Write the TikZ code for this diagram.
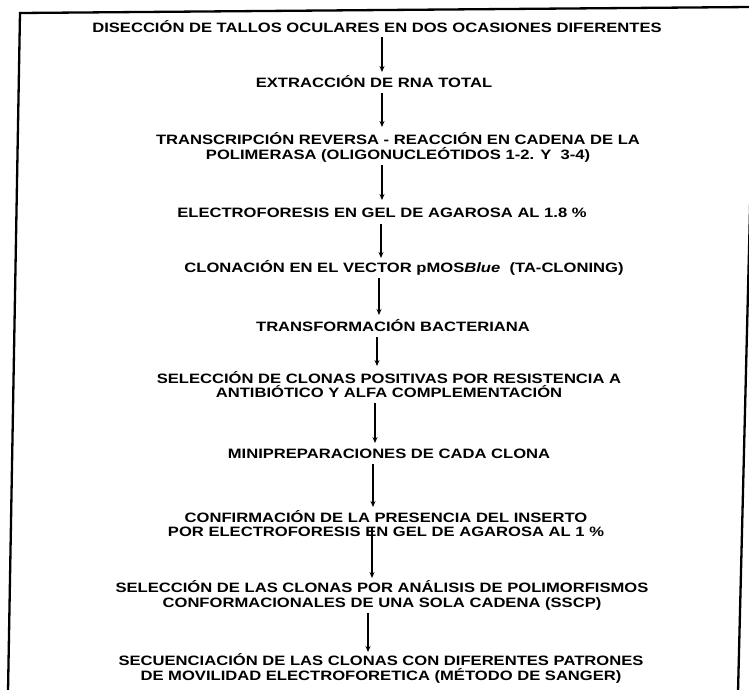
\documentclass[tikz,border=0pt]{standalone}
\usepackage{fontspec}
\setmainfont{Liberation Sans}[FakeStretch=1.22]
\usetikzlibrary{arrows.meta,calc}
\tikzset{
  stepnode/.style={inner sep=0pt, align=center, font=\fontsize{13.6bp}{14.8bp}\selectfont\bfseries},
  arr/.style={line width=1.3bp, -{Stealth[length=6bp,width=5bp]}},
  frame/.style={line width=2.3bp, line cap=round}
}
\begin{document}
\begin{tikzpicture}[x=1bp,y=-1bp]
\useasboundingbox (0,0) rectangle (749,690);
% frame (scanned, slightly skewed)
\draw[frame] (8,692) -- (20,13) -- (751,7);
\draw[frame] (751,170) -- (738,692);
% steps
\node[stepnode] (n1) at (377,27) {DISECCIÓN DE TALLOS OCULARES EN DOS OCASIONES DIFERENTES};
\node[stepnode] (n2) at (374,82) {EXTRACCIÓN DE RNA TOTAL};
\node[stepnode] (n3) at (398,147) {TRANSCRIPCIÓN REVERSA - REACCIÓN EN CADENA DE LA\\POLIMERASA (OLIGONUCLEÓTIDOS 1-2. Y\ \ 3-4)};
\node[stepnode] (n4) at (382,213) {ELECTROFORESIS EN GEL DE AGAROSA AL 1.8 \%};
\node[stepnode] (n5) at (404,268) {CLONACIÓN EN EL VECTOR pMOS\textit{Blue}\ \ (TA-CLONING)};
\node[stepnode] (n6) at (393,326) {TRANSFORMACIÓN BACTERIANA};
\node[stepnode] (n7) at (389,384.5) {SELECCIÓN DE CLONAS POSITIVAS POR RESISTENCIA A\\ANTIBIÓTICO Y ALFA COMPLEMENTACIÓN};
\node[stepnode] (n8) at (389,454) {MINIPREPARACIONES DE CADA CLONA};
\node[stepnode] (n9) at (386,523.5) {CONFIRMACIÓN DE LA PRESENCIA DEL INSERTO\\POR ELECTROFORESIS EN GEL DE AGAROSA AL 1 \%};
\node[stepnode] (n10) at (382,595.5) {SELECCIÓN DE LAS CLONAS POR ANÁLISIS DE POLIMORFISMOS\\CONFORMACIONALES DE UNA SOLA CADENA (SSCP)};
\node[stepnode] (n11) at (381,668) {SECUENCIACIÓN DE LAS CLONAS CON DIFERENTES PATRONES\\DE MOVILIDAD ELECTROFORETICA (MÉTODO DE SANGER)};
% arrow columns
\coordinate (x1) at (382,0);
\coordinate (x2) at (382,0);
\coordinate (x3) at (382,0);
\coordinate (x4) at (381,0);
\coordinate (x5) at (379,0);
\coordinate (x6) at (377,0);
\coordinate (x7) at (375,0);
\coordinate (x8) at (373,0);
\coordinate (x9) at (372,0);
\coordinate (x10) at (368,0);
% arrows
\draw[arr] ($(n1.center -| x1)+(0,10)$) -- ($(n2.center -| x1)+(0,-10)$);
\draw[arr] ($(n2.center -| x2)+(0,11)$) -- ($(n3.center -| x2)+(0,-20)$);
\draw[arr] ($(n3.center -| x3)+(0,18)$) -- ($(n4.center -| x3)+(0,-13)$);
\draw[arr] ($(n4.center -| x4)+(0,11)$) -- ($(n5.center -| x4)+(0,-10)$);
\draw[arr] ($(n5.center -| x5)+(0,10)$) -- ($(n6.center -| x5)+(0,-11)$);
\draw[arr] ($(n6.center -| x6)+(0,11)$) -- ($(n7.center -| x6)+(0,-18.5)$);
\draw[arr] ($(n7.center -| x7)+(0,18.5)$) -- ($(n8.center -| x7)+(0,-11)$);
\draw[arr] ($(n8.center -| x8)+(0,10)$) -- ($(n9.center -| x8)+(0,-16.5)$);
\draw[arr] ($(n9.center -| x9)+(0,3.5)$) -- ($(n10.center -| x9)+(0,-17.5)$);
\draw[arr] ($(n10.center -| x10)+(0,17.5)$) -- ($(n11.center -| x10)+(0,-16)$);
\end{tikzpicture}
\end{document}
